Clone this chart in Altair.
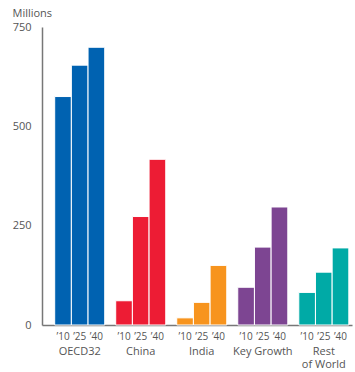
import altair as alt
import pandas as pd

# Regions, forecast years and values (millions)
regions = ["OECD32", "China", "India", "Key Growth", "Rest of World"]
years = ["’10", "’25", "’40"]
oecd32 = [575, 654, 699]
china = [61, 273, 417]
india = [18, 57, 150]
key_growth = [95, 196, 297]
rest_of_world = [82, 133, 194]
region_colors = ["#0062b1", "#ed1c34", "#f7941e", "#7d4592", "#00aaa6"]

series = [oecd32, china, india, key_growth, rest_of_world]
rows = []
for region, vals in zip(regions, series):
    for yr, v in zip(years, vals):
        rows.append({"region": region, "year": yr, "value": v})
df = pd.DataFrame(rows)

W, H = 310, 298
FONT = "Open Sans"
GRAY = "#555555"

x_enc = alt.X(
    "region:N",
    sort=regions,
    scale=alt.Scale(paddingInner=0.18, paddingOuter=0.13, align=0.8),
    axis=alt.Axis(
        title=None,
        ticks=False,
        labelAngle=0,
        labelPadding=20,
        labelFont=FONT,
        labelFontSize=11,
        labelColor=GRAY,
        labelLineHeight=13,
        labelExpr="datum.value == 'Rest of World' ? ['Rest', 'of World'] : datum.value",
        domainColor="#777777",
        domainWidth=1.5,
    ),
)
xoff = alt.XOffset("year:N", sort=years, scale=alt.Scale(paddingInner=0, paddingOuter=0))

bars = alt.Chart(df).mark_bar(stroke="white", strokeWidth=1).encode(
    x=x_enc,
    xOffset=xoff,
    y=alt.Y(
        "value:Q",
        scale=alt.Scale(domain=[0, 750], nice=False),
        axis=alt.Axis(
            values=[0, 250, 500, 750],
            grid=False,
            ticks=False,
            labelPadding=11,
            labelFont=FONT,
            labelFontSize=11,
            labelColor=GRAY,
            domainColor="#777777",
            domainWidth=1.5,
            title="Millions",
            titleAngle=0,
            titleAlign="left",
            titleBaseline="alphabetic",
            titleX=-30,
            titleY=-11,
            titleFont=FONT,
            titleFontSize=11,
            titleFontWeight="normal",
            titleColor=GRAY,
        ),
    ),
    color=alt.Color(
        "region:N",
        sort=regions,
        scale=alt.Scale(domain=regions, range=region_colors),
        legend=None,
    ),
)

year_labels = alt.Chart(df).mark_text(
    font=FONT, fontSize=10, color=GRAY, baseline="middle"
).encode(
    x=alt.X("region:N", sort=regions),
    xOffset=xoff,
    y=alt.value(H + 12),
    text="year:N",
)

chart = (
    alt.layer(bars, year_labels)
    .properties(
        width=W,
        height=H,
        padding={"left": 42, "top": 27, "right": 3, "bottom": 47},
        autosize=alt.AutoSizeParams(type="none"),
    )
    .configure_view(stroke=None)
)

chart.save("out.html", embed_options={"renderer": "svg", "actions": False})
